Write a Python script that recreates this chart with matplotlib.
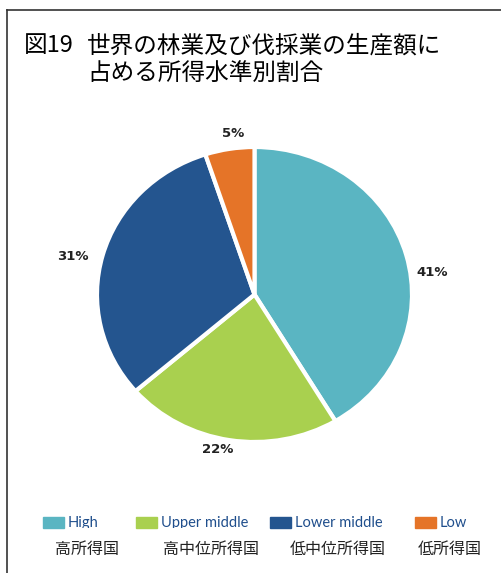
import matplotlib.pyplot as plt
import numpy as np
from matplotlib.lines import Line2D
from matplotlib.patches import Rectangle
from matplotlib.transforms import Bbox

plt.rcParams['font.family'] = ['Noto Sans CJK JP', 'DejaVu Sans']

# 所得水準別の割合 (%)
groups_en = ["High", "Upper middle", "Lower middle", "Low"]
groups_ja = ["高所得国", "高中位所得国", "低中位所得国", "低所得国"]
shares = [41, 22, 31, 5]
colors = ["#5AB5C2", "#A9D04F", "#24558F", "#E57428"]

W, H = 502, 573
fig = plt.figure(figsize=(W / 100, H / 100), dpi=100)

def fx(px):
    return px / W

def fy(py):
    return 1 - py / H

# 枠線 (左と上)
fig.add_artist(Line2D([fx(7.5), fx(7.5)], [fy(10), fy(573)], color="#333333", lw=1.2))
fig.add_artist(Line2D([fx(7.5), fx(502)], [fy(10), fy(10)], color="#333333", lw=1.2))

# タイトル
fig.text(fx(24), fy(46), "図19", fontsize=17, va="center", ha="left")
fig.text(fx(87), fy(46), "世界の林業及び伐採業の生産額に", fontsize=17, va="center", ha="left")
fig.text(fx(87), fy(74), "占める所得水準別割合", fontsize=17, va="center", ha="left")

# 円グラフ
cx, cy, rx, ry = 254.5, 294.5, 157.5, 147.5
ax = fig.add_axes([fx(cx - rx), fy(cy + ry), 2 * rx / W, 2 * ry / H])
wedges, _ = ax.pie(shares, colors=colors, startangle=90, counterclock=False,
                   wedgeprops=dict(edgecolor="white", linewidth=3))
ax.set_aspect("auto")
ax.set_xlim(-1, 1)
ax.set_ylim(-1, 1)

# ラベル位置 (半径, 角度の補正)
label_r = [1.14, 1.08, 1.18, 1.10]
label_dt = [-8, -3.5, 3, -2]
for w, v, r, dt in zip(wedges, shares, label_r, label_dt):
    t = np.deg2rad((w.theta1 + w.theta2) / 2 + dt)
    ax.text(r * np.cos(t), r * np.sin(t), f"{v}%", ha="center", va="center",
            fontsize=9.5, fontweight="bold", color="#222222",
            family=["DejaVu Sans"])

# 凡例
clip = Bbox.from_extents(0, 573 - 528, W, H)
sq_x = [43, 136, 270, 415]
ja_x = [55, 163, 290, 418]
for i, (en, ja, c) in enumerate(zip(groups_en, groups_ja, colors)):
    r = Rectangle((fx(sq_x[i]), fy(528)), 21 / W, 11 / H, color=c,
                  transform=fig.transFigure)
    fig.add_artist(r)
    t = fig.text(fx(sq_x[i] + 25), fy(523), en, fontsize=10.5, va="center",
                 ha="left", color="#1F4E8C", family=["Lato", "DejaVu Sans"])
    t.set_clip_box(clip)
    t.set_clip_on(True)
    fig.text(fx(ja_x[i]), fy(549), ja, fontsize=11.5, va="center", ha="left",
             color="#222222")

fig.savefig("out.png", dpi=100)
